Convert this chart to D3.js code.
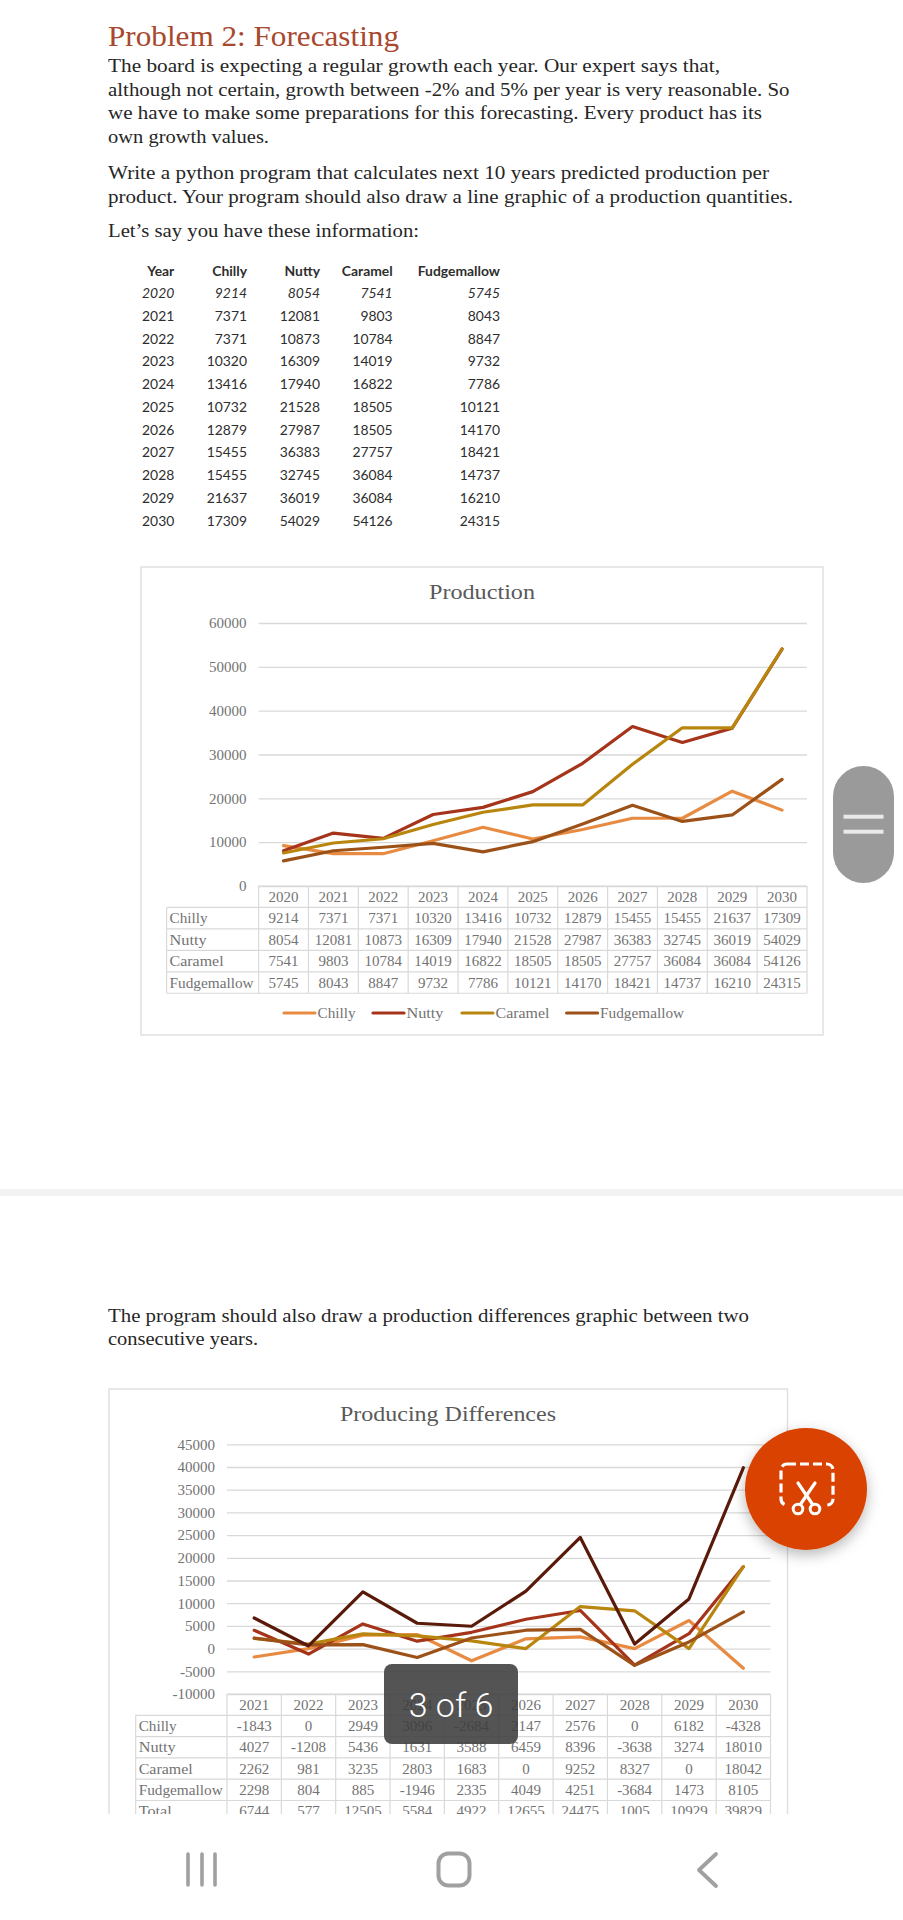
<!DOCTYPE html>
<html><head><meta charset="utf-8">
<script src="https://cdn.jsdelivr.net/npm/d3@7"></script>
<style>
html,body{margin:0;padding:0;background:#fff}
svg{display:block}
text{font-family:"Liberation Serif",serif}
</style></head><body>
<svg id="c" width="903" height="1920"></svg>
<script>
const products = ["Chilly","Nutty","Caramel","Fudgemallow"];
const years = ["2020","2021","2022","2023","2024","2025","2026","2027","2028","2029","2030"];
const chilly = [9214,7371,7371,10320,13416,10732,12879,15455,15455,21637,17309];
const nutty = [8054,12081,10873,16309,17940,21528,27987,36383,32745,36019,54029];
const caramel = [7541,9803,10784,14019,16822,18505,18505,27757,36084,36084,54126];
const fudgemallow = [5745,8043,8847,9732,7786,10121,14170,18421,14737,16210,24315];

const diffYears = ["2021","2022","2023","2024","2025","2026","2027","2028","2029","2030"];
const diffNames = ["Chilly","Nutty","Caramel","Fudgemallow","Total"];
const diffChilly = [-1843,0,2949,3096,-2684,2147,2576,0,6182,-4328];
const diffNutty = [4027,-1208,5436,1631,3588,6459,8396,-3638,3274,18010];
const diffCaramel = [2262,981,3235,2803,1683,0,9252,8327,0,18042];
const diffFudgemallow = [2298,804,885,-1946,2335,4049,4251,-3684,1473,8105];
const diffTotal = [6744,577,12505,5584,4922,12655,24475,1005,10929,39829];

const prodTicks = [0,10000,20000,30000,40000,50000,60000];
const diffTicks = [-10000,-5000,0,5000,10000,15000,20000,25000,30000,35000,40000,45000];
const palette = ["#E88B42","#A5341B","#B8860F","#9C5118","#5A1A0A"];

const heading = "Problem 2: Forecasting";
const paragraphs = [
 "The board is expecting a regular growth each year. Our expert says that,",
 "although not certain, growth between -2% and 5% per year is very reasonable. So",
 "we have to make some preparations for this forecasting. Every product has its",
 "own growth values.",
 "Write a python program that calculates next 10 years predicted production per",
 "product. Your program should also draw a line graphic of a production quantities.",
 "Let\u2019s say you have these information:"
];
const paragraphs2 = [
 "The program should also draw a production differences graphic between two",
 "consecutive years."
];

const svg = d3.select("#c");
const GRID = "#d9d9d9", GREY = "#737373", INK = "#262626";

function fit(sel, w){ return sel.attr("textLength", w).attr("lengthAdjust","spacingAndGlyphs"); }

// ---------- page text
fit(svg.append("text").attr("x",108).attr("y",46).attr("font-size",28.5).attr("fill","#A8482E").text(heading), 291);
const bodyLayout = [[72,612],[95.7,681.5],[119,654],[142.7,161],[179.3,661],[202.7,685],[237,311]];
paragraphs.forEach((t,i)=> fit(svg.append("text").attr("x",108).attr("y",bodyLayout[i][0]).attr("font-size",18.5).attr("fill",INK).text(t), bodyLayout[i][1]));
const bodyLayout2 = [[1321.7,641],[1345,150]];
paragraphs2.forEach((t,i)=> fit(svg.append("text").attr("x",108).attr("y",bodyLayout2[i][0]).attr("font-size",18.5).attr("fill",INK).text(t), bodyLayout2[i][1]));

// ---------- source table
const tableCols = [174.3,247,320,392.7,500];
const rowY = d3.scaleLinear().domain([0,11]).range([270,520]);
const tbl = svg.append("g").attr("font-size",13.9).attr("fill","#2e2e2e");
const sans = s => s.style("font-family","Lato,'Open Sans',sans-serif").attr("text-anchor","end").attr("dominant-baseline","central");
["Year",...products].forEach((h,i)=> sans(tbl.append("text")).attr("x",tableCols[i]).attr("y",rowY(0)).attr("font-weight",700).text(h));
years.forEach((yr,r)=>{
  [yr,chilly[r],nutty[r],caramel[r],fudgemallow[r]].forEach((v,i)=>{
    sans(tbl.append("text")).attr("x",tableCols[i]).attr("y",rowY(r+1)).attr("font-style",r===0?"italic":"normal").text(v);
  });
});

// ---------- generic chart
function chart(o){
  const g = svg.append("g");
  if(o.clip){
    svg.append("clipPath").attr("id","clip2").append("rect").attr("x",0).attr("y",0).attr("width",903).attr("height",o.clip);
    g.attr("clip-path","url(#clip2)");
  }
  // frame
  g.append("rect").attr("x",o.box[0]).attr("y",o.box[1]).attr("width",o.box[2]-o.box[0]).attr("height",o.box[3]-o.box[1])
    .attr("fill","#fff").attr("stroke","#dedede").attr("stroke-width",1.4);
  fit(g.append("text").attr("x",o.titleX).attr("y",o.titleY).attr("text-anchor","middle").attr("font-size",21).attr("fill","#595959").text(o.title), o.titleW);

  const x = d3.scaleBand().domain(o.cats).range([o.left,o.right]);
  const y = d3.scaleLinear().domain(o.domain).range(o.yRange);

  const ax = g.append("g").attr("transform",`translate(${o.left},0)`)
    .call(d3.axisLeft(y).tickValues(o.ticks).tickSize(-(o.right-o.left)).tickPadding(12).tickFormat(d=>String(d)));
  ax.select(".domain").remove();
  ax.selectAll(".tick line").attr("stroke",GRID).attr("stroke-width",1.3);
  ax.selectAll(".tick text").attr("font-size",15).attr("fill",GREY).style("font-family","'Liberation Serif',serif");

  // data table grid
  const tTop = y(o.domain[0]);
  const rowH = o.rowH;
  const nRows = o.rows.length;
  const tBottom = tTop + rowH*(nRows+1);
  const lines = g.append("g").attr("stroke",GRID).attr("stroke-width",1.2);
  o.cats.forEach(c=> lines.append("line").attr("x1",x(c)).attr("x2",x(c)).attr("y1",tTop).attr("y2",tBottom));
  lines.append("line").attr("x1",o.right).attr("x2",o.right).attr("y1",tTop).attr("y2",tBottom);
  lines.append("line").attr("x1",o.tableLeft).attr("x2",o.tableLeft).attr("y1",tTop+rowH).attr("y2",tBottom);
  lines.append("line").attr("x1",o.left).attr("x2",o.right).attr("y1",tTop).attr("y2",tTop);
  d3.range(1,nRows+2).forEach(i=> lines.append("line").attr("x1",o.tableLeft).attr("x2",o.right).attr("y1",tTop+rowH*i).attr("y2",tTop+rowH*i));

  const cell = (tx,ty,s,anchor)=> g.append("text").attr("x",tx).attr("y",ty).attr("dominant-baseline","central")
     .attr("text-anchor",anchor||"middle").attr("font-size",15).attr("fill",GREY).text(s);
  o.cats.forEach(c=> cell(x(c)+x.bandwidth()/2, tTop+rowH/2, c));
  o.rows.forEach((vals,r)=>{
    const cy = tTop+rowH*(r+1.5);
    fit(cell(o.tableLeft+3, cy, o.names[r], "start"), o.nameW[r]);
    vals.forEach((v,i)=> cell(x(o.cats[i])+x.bandwidth()/2, cy, v));
  });

  // lines
  const line = d3.line().x((d,i)=>x(o.cats[i])+x.bandwidth()/2).y(d=>y(d)).curve(d3.curveLinear);
  o.rows.forEach((vals,r)=>{
    g.append("path").datum(vals).attr("d",line).attr("fill","none").attr("stroke",palette[r])
      .attr("stroke-width",o.lineW).attr("stroke-linejoin","round").attr("stroke-linecap","round");
  });

  // legend
  if(o.legend){
    o.legend.forEach((p,i)=>{
      g.append("line").attr("x1",p[0]).attr("x2",p[0]+31).attr("y1",o.legendY).attr("y2",o.legendY)
        .attr("stroke",palette[i]).attr("stroke-width",o.lineW).attr("stroke-linecap","round");
      fit(g.append("text").attr("x",p[0]+33.5).attr("y",o.legendY).attr("dominant-baseline","central")
        .attr("font-size",15).attr("fill",GREY).text(o.names[i]), o.nameW[i]);
    });
  }
}

chart({
  box:[141,567,823,1035], title:"Production", titleX:482, titleY:599, titleW:106,
  cats:years, names:products, nameW:[38,37,54,84], rows:[chilly,nutty,caramel,fudgemallow],
  left:258.6, right:807, tableLeft:166.6,
  domain:[0,60000], yRange:[886,623], ticks:prodTicks, rowH:21.45, lineW:3.2,
  legend:[[284],[373],[462],[566.6]], legendY:1013
});

chart({
  box:[109,1389,787.5,1900], clip:1814, title:"Producing Differences", titleX:448, titleY:1421, titleW:216,
  cats:diffYears, names:diffNames, nameW:[38,37,54,84,33], rows:[diffChilly,diffNutty,diffCaramel,diffFudgemallow,diffTotal],
  left:227, right:770.5, tableLeft:135.7,
  domain:[-10000,45000], yRange:[1694,1444.3], ticks:diffTicks, rowH:21.3, lineW:3.2
});

// ---------- page separator
svg.append("rect").attr("x",0).attr("y",1189).attr("width",903).attr("height",7).attr("fill","#f2f2f2");

// ---------- screen overlays
const pill = svg.append("g");
pill.append("rect").attr("x",833).attr("y",766).attr("width",61).attr("height",117).attr("rx",30.5).attr("fill","#9a9a9a");
[816.7,831.7].forEach(b=> pill.append("rect").attr("x",843.5).attr("y",b-2).attr("width",40).attr("height",4).attr("fill","#e9e9e9"));

const defs = svg.append("defs");
const f = defs.append("filter").attr("id","sh").attr("x","-30%").attr("y","-30%").attr("width","160%").attr("height","170%");
f.append("feDropShadow").attr("dx",0).attr("dy",5).attr("stdDeviation",7).attr("flood-color","#000").attr("flood-opacity",0.28);
const fab = svg.append("g");
fab.append("circle").attr("cx",806).attr("cy",1489).attr("r",61).attr("fill","#D94300").attr("filter","url(#sh)");
fab.append("rect").attr("x",781).attr("y",1464).attr("width",52).attr("height",41).attr("rx",6).attr("fill","none")
  .attr("stroke","#fff").attr("stroke-width",3.2).attr("stroke-dasharray","9 4");
fab.append("rect").attr("x",788).attr("y",1500).attr("width",38).attr("height",8).attr("fill","#D94300");
[[798,1483,813,1505],[815,1483,800,1505]].forEach(l=> fab.append("line").attr("x1",l[0]).attr("y1",l[1]).attr("x2",l[2]).attr("y2",l[3]).attr("stroke","#fff").attr("stroke-width",3.2).attr("stroke-linecap","round"));
[798,815].forEach(cx=> fab.append("circle").attr("cx",cx).attr("cy",1509).attr("r",4.8).attr("fill","#D94300").attr("stroke","#fff").attr("stroke-width",3));

const toast = svg.append("g");
toast.append("rect").attr("x",384).attr("y",1664).attr("width",134).attr("height",80).attr("rx",8).attr("fill","#3c3c3c").attr("fill-opacity",0.88);
toast.append("text").attr("x",451).attr("y",1705).attr("text-anchor","middle").attr("dominant-baseline","central")
  .attr("font-size",34).attr("font-weight",300).attr("fill","#fff").style("font-family","Roboto,'Noto Sans',sans-serif").text("3 of 6");

// ---------- nav bar
const nav = svg.append("g").attr("stroke","#a0a0a0").attr("fill","none").attr("stroke-linecap","round").attr("stroke-linejoin","round");
[188,202,215].forEach(nx=> nav.append("line").attr("x1",nx).attr("x2",nx).attr("y1",1854).attr("y2",1885).attr("stroke-width",3.6));
nav.append("rect").attr("x",438.5).attr("y",1853.5).attr("width",31).attr("height",32).attr("rx",10).attr("stroke-width",4);
nav.append("path").attr("d",d3.line()([[716,1854],[699,1870],[716,1886]])).attr("stroke-width",3.8);
</script>
</body></html>
